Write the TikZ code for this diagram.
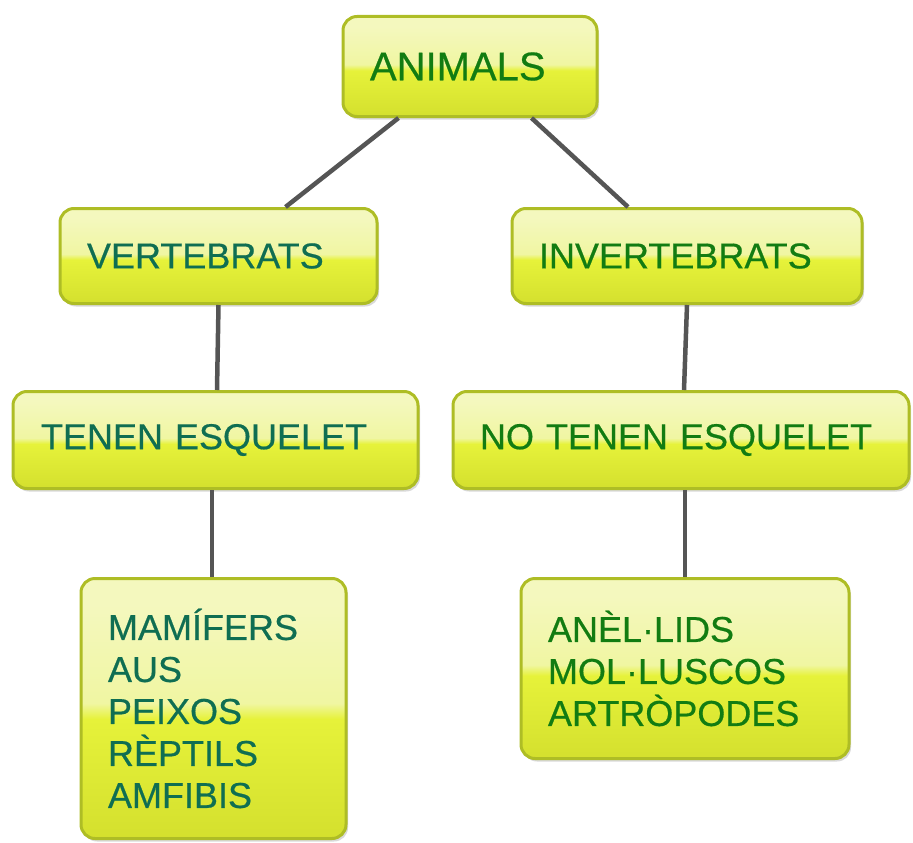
\documentclass[tikz,border=0pt]{standalone}
\usepackage{fontspec}
\setmainfont{Liberation Sans}
\newfontfamily\boxfont{Liberation Sans}[FakeBold=0.5]
\usepackage{xcolor}
\usepackage{tikz}
\usetikzlibrary{shadows}

\definecolor{boxborder}{HTML}{AEBD25}
\definecolor{boxdark}{HTML}{D4E02E}
\definecolor{boxmain}{HTML}{E6F23A}
\definecolor{boxlight}{HTML}{F0F6A2}
\definecolor{boxtop}{HTML}{F4F8BE}
\definecolor{leftgreen}{HTML}{0F6E52}
\definecolor{rightgreen}{HTML}{127C12}
\definecolor{linkgray}{HTML}{555555}

\pgfdeclareverticalshading{glossy}{100bp}{color(0bp)=(boxdark); color(25bp)=(boxdark);
  color(48bp)=(boxmain); color(51bp)=(boxlight); color(70bp)=(boxtop); color(100bp)=(boxtop)}

\begin{document}
\begin{tikzpicture}[x=1pt,y=-1pt,
  every node/.style={font=\boxfont\fontsize{36}{42}\selectfont},
  box/.style={rectangle,rounded corners=14pt,draw=boxborder,line width=3pt,
              shading=glossy,align=left,inner xsep=27pt,inner ysep=0pt,
              drop shadow={shadow xshift=2pt,shadow yshift=-3pt,opacity=0.25,fill=black!60}},
  lbox/.style={box,text=leftgreen},
  rbox/.style={box,text=rightgreen},
  link/.style={draw=linkgray,line width=4.5pt}]
\useasboundingbox (0,0) rectangle (913,843);
% boxes
\node[rbox,text width=200pt,minimum height=100pt,font=\boxfont\fontsize{40}{46}\selectfont]
  (animals) at (470,66.5) {ANIMALS};
\node[lbox,text width=263pt,minimum height=95pt] (vert) at (218.5,256) {VERTEBRATS};
\node[rbox,text width=296pt,minimum height=95pt] (invert) at (687,256) {INVERTEBRATS};
\node[lbox,text width=349pt,minimum height=97pt,inner xsep=28pt] (tenen) at (215.5,440)
  {TENEN ESQUELET};
\node[rbox,text width=402pt,minimum height=97pt] (notenen) at (681,440)
  {NO TENEN ESQUELET};
\node[lbox,text width=211pt,minimum height=260pt] (vertlist) at (213.5,708.5)
  {MAMÍFERS\\AUS\\PEIXOS\\RÈPTILS\\AMFIBIS};
\node[rbox,text width=274pt,minimum height=180pt] (invertlist) at (685,668.5)
  {ANÈL·LIDS\\MOL·LUSCOS\\ARTRÒPODES};
% links
\draw[link] ([xshift=57pt]animals.south west) -- ([xshift=227pt]vert.north west);
\draw[link] ([xshift=-67pt]animals.south east) -- ([xshift=-59pt]invert.north);
\draw[link] (vert.south) -- ([xshift=1.5pt]tenen.north);
\draw[link] (invert.south) -- ([xshift=3pt]notenen.north);
\draw[link] ([xshift=-3.5pt]tenen.south) -- ([xshift=-1.5pt]vertlist.north);
\draw[link] ([xshift=4pt]notenen.south) -- (invertlist.north);
\end{tikzpicture}
\end{document}
